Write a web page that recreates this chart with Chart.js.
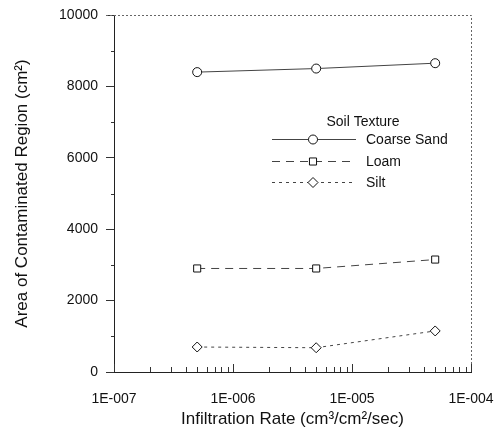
<!DOCTYPE html>
<html>
<head>
<meta charset="utf-8">
<script src="https://cdn.jsdelivr.net/npm/chart.js@4"></script>
<style>
  html, body { margin: 0; padding: 0; background: #fff; }
  #wrap { width: 499px; height: 436px; }
</style>
</head>
<body>
<div id="wrap"><canvas id="soilChart" width="499" height="436"></canvas></div>
<script>
// infiltration rates (cm3/cm2/sec)
const rates = [5e-7, 5e-6, 5e-5];
// area of contaminated region (cm2)
const coarseSand = [8400, 8500, 8650];
const loam = [2900, 2900, 3150];
const silt = [700, 680, 1150];
const seriesNames = ['Coarse Sand', 'Loam', 'Silt'];
const yTicks = [0, 2000, 4000, 6000, 8000, 10000];
const xDecades = [1e-7, 1e-6, 1e-5, 1e-4];

function pts(vals) {
    return rates.map((r, i) => ({ x: r, y: vals[i] }));
}
function fmtExp(v) {
    const e = Math.round(Math.log10(v));
    const s = String(Math.abs(e)).padStart(3, '0');
    return '1E' + (e < 0 ? '-' : '+') + s;
}

const lineStyles = [
    { dash: [], point: 'circle', radius: 4.5 },
    { dash: [8, 6], point: 'rect', radius: 5 },
    { dash: [3, 4], point: 'rectRot', radius: 5 }
];

// frame, minor ticks and legend
const extras = {
    id: 'extras',
    afterDraw(chart) {
        const ctx = chart.ctx;
        const a = chart.chartArea;
        const xs = chart.scales.x, ys = chart.scales.y;
        ctx.save();
        // top and right border (light dotted)
        ctx.strokeStyle = '#666';
        ctx.lineWidth = 1;
        ctx.setLineDash([2, 2]);
        ctx.beginPath();
        ctx.moveTo(a.left - 8, a.top + 0.5);
        ctx.lineTo(a.right + 0.5, a.top + 0.5);
        ctx.lineTo(a.right + 0.5, a.bottom);
        ctx.stroke();
        ctx.setLineDash([]);
        // y minor ticks
        ctx.strokeStyle = '#333';
        for (let v = 1000; v < 10000; v += 2000) {
            const y = Math.round(ys.getPixelForValue(v)) + 0.5;
            ctx.beginPath();
            ctx.moveTo(a.left - 3, y);
            ctx.lineTo(a.left, y);
            ctx.stroke();
        }
        // x log ticks, pointing up
        for (let d = 0; d < xDecades.length; d++) {
            const base = xDecades[d];
            for (let m = 1; m <= 9; m++) {
                if (d === xDecades.length - 1 && m > 1) break;
                const x = Math.round(xs.getPixelForValue(base * m)) + 0.5;
                const len = m === 1 ? 8 : 5;
                ctx.beginPath();
                ctx.moveTo(x, a.bottom);
                ctx.lineTo(x, a.bottom - len);
                ctx.stroke();
            }
        }
        // legend
        ctx.fillStyle = '#111';
        ctx.font = '14px "Liberation Sans", Arial, sans-serif';
        ctx.textBaseline = 'middle';
        ctx.textAlign = 'center';
        ctx.fillText('Soil Texture', 363, 122);
        ctx.textAlign = 'left';
        const rowY = [139, 161, 182];
        chart.data.datasets.forEach((ds, i) => {
            const st = lineStyles[i];
            const y = rowY[i] + 0.5;
            ctx.strokeStyle = '#444';
            ctx.setLineDash(st.dash);
            ctx.beginPath();
            ctx.moveTo(272, y);
            ctx.lineTo(356, y);
            ctx.stroke();
            ctx.setLineDash([]);
            ctx.strokeStyle = '#111';
            ctx.fillStyle = '#fff';
            Chart.helpers.drawPoint(ctx, { pointStyle: st.point, radius: st.radius, borderWidth: 1 }, 313, y);
            ctx.fillStyle = '#111';
            ctx.fillText(ds.label, 366, y + 1);
        });
        ctx.restore();
    }
};

const ctx = document.getElementById('soilChart').getContext('2d');
Chart.defaults.font.family = '"Liberation Sans", Arial, sans-serif';
Chart.defaults.color = '#111';

new Chart(ctx, {
    type: 'line',
    data: {
        datasets: [coarseSand, loam, silt].map((vals, i) => ({
            label: seriesNames[i],
            data: pts(vals),
            borderColor: '#444',
            borderWidth: 1,
            borderDash: lineStyles[i].dash,
            pointStyle: lineStyles[i].point,
            pointRadius: lineStyles[i].radius,
            pointBorderColor: '#111',
            pointBackgroundColor: '#fff',
            pointBorderWidth: 1,
            tension: 0,
            fill: false
        }))
    },
    options: {
        responsive: false,
        animation: false,
        layout: { padding: { top: 15, right: 28, left: 0, bottom: 0 } },
        plugins: {
            legend: { display: false },
            tooltip: { enabled: false }
        },
        scales: {
            x: {
                type: 'logarithmic',
                min: 1e-7,
                max: 1e-4,
                afterFit: s => { s.height = 64; s.paddingLeft = 0; s.paddingRight = 0; },
                afterBuildTicks: s => { s.ticks = xDecades.map(v => ({ value: v })); },
                ticks: {
                    autoSkip: false,
                    maxRotation: 0,
                    padding: 19,
                    font: { size: 14 },
                    callback: v => fmtExp(v)
                },
                grid: { display: true, drawOnChartArea: false, drawTicks: false },
                border: { display: true, color: '#222', width: 1 },
                title: {
                    display: true,
                    text: 'Infiltration Rate (cm³/cm²/sec)',
                    font: { size: 17 },
                    padding: { top: 4, bottom: 6 }
                }
            },
            y: {
                min: 0,
                max: 10000,
                afterFit: s => { s.width = 114; s.paddingTop = 0; s.paddingBottom = 0; },
                afterBuildTicks: s => { s.ticks = yTicks.map(v => ({ value: v })); },
                ticks: {
                    font: { size: 14 },
                    padding: 8,
                    callback: v => String(v)
                },
                grid: { display: true, drawOnChartArea: false, drawTicks: true, tickLength: 8, color: '#333' },
                border: { display: true, color: '#222', width: 1 },
                title: {
                    display: true,
                    text: 'Area of Contaminated Region (cm²)',
                    font: { size: 17 },
                    padding: { top: 12, bottom: 4 }
                }
            }
        }
    },
    plugins: [extras]
});
</script>
</body>
</html>
